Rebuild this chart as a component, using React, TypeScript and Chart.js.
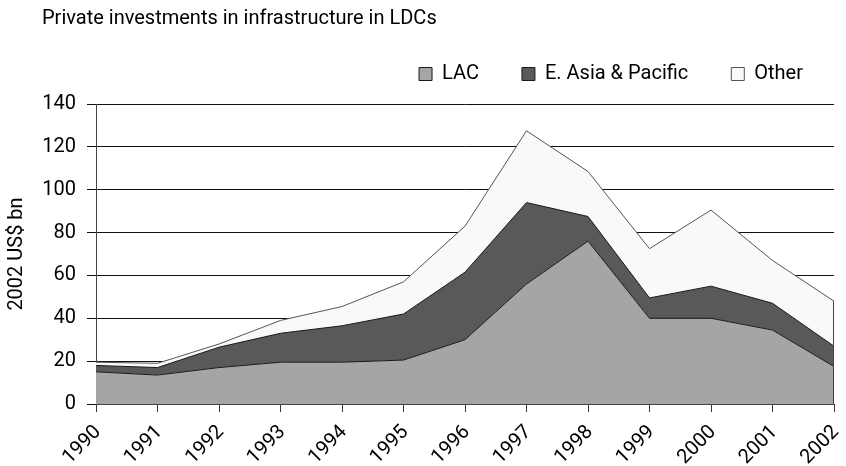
import React, { useEffect, useRef } from "react";
import { Chart, registerables } from "chart.js";

Chart.register(...registerables);

const years = ["1990", "1991", "1992", "1993", "1994", "1995", "1996", "1997", "1998", "1999", "2000", "2001", "2002"];
const lac = [15, 13.5, 17, 19.5, 19.5, 20.5, 30, 56, 76, 40, 40, 34.5, 17.5];
const eastAsia = [3, 3.5, 9.5, 13.5, 17, 21.5, 31.5, 38, 11.5, 9.5, 15, 12.5, 9.5];
const other = [1.5, 2, 1.5, 6, 9, 15, 21.5, 33.5, 21, 23, 35.5, 20, 21];

const FONT = "Roboto, 'Open Sans', sans-serif";

const legendGap = {
  id: "legendGap",
  beforeLayout(chart: any) {
    const legend = chart.legend;
    if (!legend || legend._gapPatched) return;
    const fit = legend.fit;
    legend.fit = function () {
      fit.call(this);
      this.height += 10;
    };
    legend._gapPatched = true;
  },
};

// closes the stacked areas at the last category with a vertical edge
const rightEdge = {
  id: "rightEdge",
  afterDatasetsDraw(chart: any) {
    const xs = chart.scales.x;
    const ys = chart.scales.y;
    const i = years.length - 1;
    const total = lac[i] + eastAsia[i] + other[i];
    const x = Math.round(xs.getPixelForValue(i)) - 0.5;
    const ctx = chart.ctx;
    ctx.save();
    ctx.strokeStyle = "#444";
    ctx.lineWidth = 1;
    ctx.beginPath();
    ctx.moveTo(x, ys.getPixelForValue(total));
    ctx.lineTo(x, ys.getPixelForValue(0));
    ctx.stroke();
    ctx.restore();
  },
};

export default function App() {
  const canvasRef = useRef<HTMLCanvasElement | null>(null);

  useEffect(() => {
    document.body.style.margin = "0";
    const canvas = canvasRef.current;
    if (!canvas) return;
    const chart = new Chart(canvas, {
      type: "line",
      data: {
        labels: years,
        datasets: [
          {
            label: "LAC",
            data: lac,
            backgroundColor: "#a5a5a5",
            borderColor: "#1a1a1a",
            borderWidth: 1,
            fill: "origin",
            pointRadius: 0,
            tension: 0,
          },
          {
            label: "E. Asia & Pacific",
            data: eastAsia,
            backgroundColor: "#595959",
            borderColor: "#1a1a1a",
            borderWidth: 1,
            fill: "-1",
            pointRadius: 0,
            tension: 0,
          },
          {
            label: "Other",
            data: other,
            backgroundColor: "#f9f9f9",
            borderColor: "#555555",
            borderWidth: 1,
            fill: "-1",
            pointRadius: 0,
            tension: 0,
          },
        ],
      },
      plugins: [legendGap, rightEdge],
      options: {
        animation: false,
        responsive: true,
        maintainAspectRatio: false,
        layout: { padding: { top: 21, left: 0, right: 0, bottom: 0 } },
        plugins: {
          legend: {
            display: true,
            position: "top",
            align: "end",
            labels: {
              boxWidth: 13,
              boxHeight: 13,
              padding: 43,
              color: "#000",
              font: { family: FONT, size: 20 },
            },
          },
          tooltip: { enabled: false },
          title: { display: false },
        },
        scales: {
          x: {
            offset: false,
            afterFit: (scale: any) => {
              scale.paddingLeft = 0;
              scale.paddingRight = 12;
              scale.height = 62;
            },
            grid: {
              display: true,
              drawOnChartArea: false,
              drawTicks: true,
              tickLength: 8,
              color: "#333",
            },
            border: { display: true, color: "#444", width: 1 },
            ticks: {
              minRotation: 45,
              maxRotation: 45,
              autoSkip: false,
              color: "#000",
              padding: 15,
              labelOffset: 2,
              font: { family: FONT, size: 20, lineHeight: 0.3 },
            },
          },
          y: {
            stacked: true,
            min: 0,
            max: 140,
            afterFit: (scale: any) => {
              scale.width = 96;
            },
            grid: {
              color: "#111",
              lineWidth: 1,
              drawTicks: true,
              tickLength: 9,
            },
            border: { display: true, color: "#444", width: 1 },
            ticks: {
              stepSize: 20,
              color: "#000",
              padding: 11,
              font: { family: FONT, size: 20 },
            },
            title: {
              display: true,
              text: "2002 US$ bn",
              color: "#000",
              padding: { top: 5, bottom: 14 },
              font: { family: FONT, size: 20 },
            },
          },
        },
      },
    });
    return () => chart.destroy();
  }, []);

  return (
    <div style={{ position: "fixed", left: 0, top: 0, width: 846, height: 466, background: "#fff" }}>
      <canvas ref={canvasRef} />
      <div
        style={{
          position: "absolute",
          left: 42,
          top: 5,
          fontFamily: FONT,
          fontSize: 20,
          lineHeight: "24px",
          color: "#000",
          whiteSpace: "nowrap",
        }}
      >
        Private investments in infrastructure in LDCs
      </div>
    </div>
  );
}
